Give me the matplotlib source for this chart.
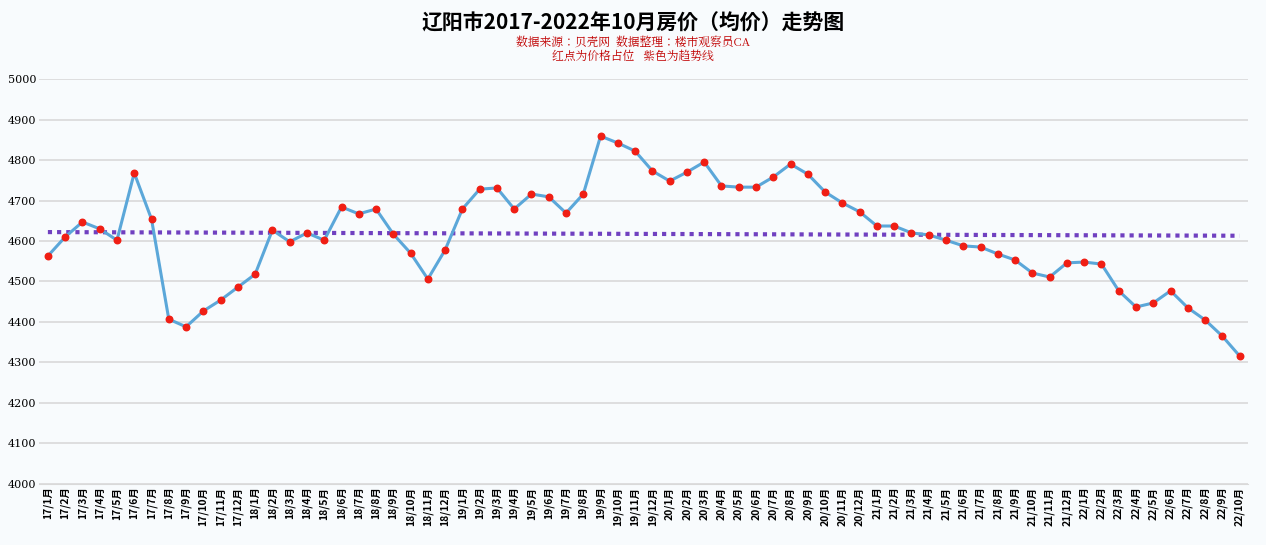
import matplotlib
matplotlib.use("Agg")
import matplotlib.pyplot as plt
from matplotlib import font_manager as fm
import numpy as np

months = []
for y in range(17, 23):
    for m in range(1, 13):
        if y == 22 and m > 10:
            break
        months.append(f"{y}/{m}月")

prices = [4563, 4610, 4647, 4630, 4602, 4768, 4654, 4407, 4388, 4427, 4454, 4486,
          4518, 4627, 4598, 4620, 4602, 4684, 4667, 4679, 4617, 4570, 4506, 4578,
          4679, 4728, 4731, 4679, 4716, 4709, 4669, 4716, 4859, 4842, 4822, 4773,
          4748, 4770, 4795, 4736, 4733, 4733, 4758, 4790, 4765, 4721, 4694, 4672,
          4637, 4637, 4620, 4615, 4602, 4588, 4585, 4568, 4553, 4521, 4511, 4546,
          4548, 4543, 4477, 4437, 4447, 4477, 4435, 4405, 4365, 4316]
trend_ends = [4622, 4613]
yticks = list(range(4000, 5001, 100))

cjk = [f for f in fm.findSystemFonts() if "CJK" in f or "cjk" in f.lower()]
reg = [f for f in cjk if "Regular" in f] or cjk
bold = [f for f in cjk if "Bold" in f] or reg
for f in cjk:
    try:
        fm.fontManager.addfont(f)
    except Exception:
        pass
fp = fm.FontProperties(fname=reg[0]) if reg else fm.FontProperties(family="Noto Sans CJK SC")
fpb = fm.FontProperties(fname=bold[0]) if bold else fm.FontProperties(family="Noto Sans CJK SC", weight="bold")

bg = "#F8FBFD"
fig = plt.figure(figsize=(12.66, 5.45), dpi=100, facecolor=bg)
ax = fig.add_axes([0.031, 0.112, 0.955, 0.743], facecolor=bg)
x = np.arange(len(prices))
ax.plot(x, prices, color="#5BA7D9", lw=2.2, zorder=2)
ax.scatter(x, prices, color="#F01E14", s=22, zorder=3)
ax.plot([x[0], x[-1]], trend_ends, color="#7040C0", lw=3, ls=(0, (1, 1.2)), zorder=1)
ax.set_xlim(-0.5, len(prices) - 0.5)
ax.set_ylim(4000, 5000)
ax.set_yticks(yticks)
ax.set_yticklabels([str(t) for t in yticks], fontsize=8, fontfamily="DejaVu Serif")
ax.set_xticks(x)
ax.set_xticklabels(months, rotation=90)
for t in ax.get_xticklabels():
    t.set_fontproperties(fpb)
    t.set_fontsize(7.5)
ax.grid(axis="y", color="#D9D9D9", lw=1.2)
ax.set_axisbelow(True)
for s in ax.spines.values():
    s.set_visible(False)
ax.spines["bottom"].set_visible(True)
ax.spines["bottom"].set_color("#D9D9D9")
ax.tick_params(length=0, pad=2)
fig.text(0.5, 0.958, "辽阳市2017-2022年10月房价（均价）走势图", ha="center", va="center",
         fontproperties=fpb, fontsize=15)
fig.text(0.5, 0.92, "数据来源：贝壳网  数据整理：楼市观察员CA", ha="center", va="center",
         fontproperties=fp, fontsize=8.5, color="#C00000")
fig.text(0.5, 0.895, "红点为价格占位   紫色为趋势线", ha="center", va="center",
         fontproperties=fp, fontsize=8.5, color="#C00000")
fig.savefig("out.png", dpi=100, facecolor=bg)
